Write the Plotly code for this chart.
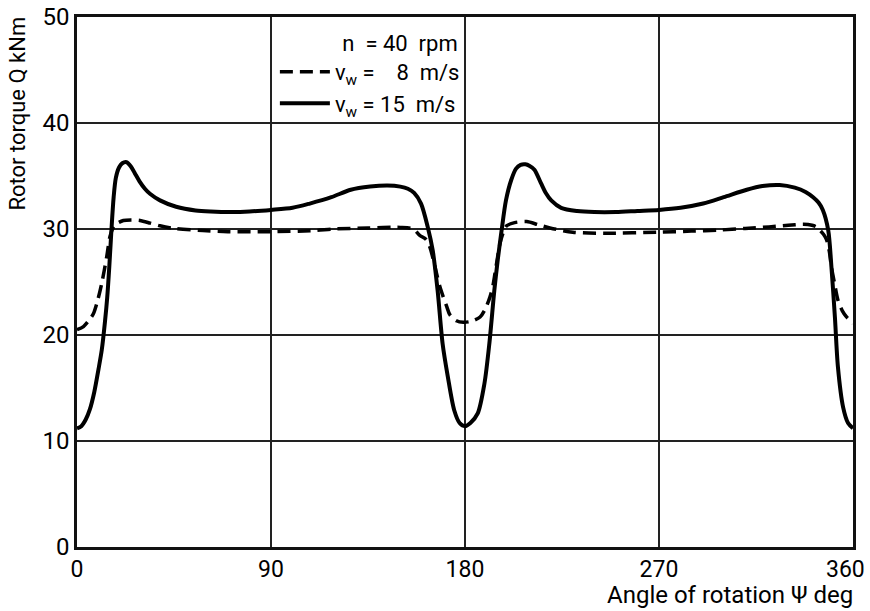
import plotly.graph_objects as go

# Rotor torque over one revolution, n = 40 rpm
angle_15 = [0, 2, 4, 6, 8, 10, 11.5, 13, 14, 15, 16, 17, 18, 19.5, 21, 23, 25, 27, 29,
            31.5, 34, 38.5, 46, 55, 62, 72, 80, 90, 100, 108, 118, 127, 136, 144, 150,
            153.5, 156.4, 159.6, 162.7, 165, 167.3, 169.6, 172, 175, 177.5, 180, 182.5,
            185.9, 189, 191.3, 193.6, 195.2, 197, 199, 201.4, 203.7, 205.8, 208, 210,
            212.2, 215.3, 217.5, 220, 224.6, 232, 240, 250, 260, 270, 280, 290.5, 300,
            310.7, 318, 326, 333, 338, 341.5, 344, 346, 348.5, 350, 351.6, 353, 355.4,
            357.7, 360]
torque_15 = [11.2, 11.4, 12.0, 13.0, 14.6, 16.8, 18.6, 21.3, 23.5, 26.5, 30.0, 33.0, 34.8,
             35.8, 36.2, 36.3, 35.9, 35.2, 34.5, 33.8, 33.3, 32.7, 32.1, 31.75, 31.65,
             31.6, 31.65, 31.8, 32.0, 32.4, 33.0, 33.7, 34.0, 34.1, 34.0, 33.8, 33.4,
             32.4, 30.2, 28.0, 24.2, 19.2, 16.1, 12.9, 11.7, 11.4, 11.7, 12.6, 15.4, 19.2,
             24.2, 27.1, 29.9, 32.7, 34.6, 35.7, 36.05, 36.1, 35.95, 35.6, 34.3, 33.4,
             32.7, 32.0, 31.7, 31.6, 31.6, 31.7, 31.8, 32.0, 32.4, 33.0, 33.7, 34.05,
             34.15, 33.9, 33.5, 33.0, 32.5, 31.8, 29.9, 26.4, 21.7, 17.0, 13.2, 11.7,
             11.2]

angle_8 = [0, 3, 6, 7.6, 9.5, 11.5, 13.8, 15.3, 17, 18.4, 21.5, 25, 29.2, 34, 38.5, 45,
           58.4, 70, 90, 110, 119, 135, 150, 156, 159, 162, 163.7, 165.3, 166.8, 168.3,
           169.9, 171.5, 173, 176, 179.2, 183, 187, 189.5, 191.6, 193, 193.9, 195, 196.2,
           197.8, 199.3, 203, 208.6, 214, 219.4, 230, 245, 270, 285, 298, 310, 321, 330,
           337, 341, 343, 344.6, 346.3, 347.7, 349, 350, 351.5, 353, 355, 357, 360]
torque_8 = [20.5, 20.8, 21.5, 22.0, 23.2, 24.9, 27.4, 29.3, 30.2, 30.5, 30.8, 30.85, 30.8,
            30.55, 30.3, 30.05, 29.85, 29.75, 29.75, 29.85, 30.0, 30.1, 30.15, 30.0, 29.4,
            29.0, 28.3, 27.1, 25.8, 24.6, 23.6, 22.7, 21.9, 21.35, 21.2, 21.3, 21.7, 22.5,
            23.6, 24.7, 25.8, 27.2, 28.6, 29.7, 30.3, 30.6, 30.7, 30.4, 30.1, 29.7, 29.6,
            29.7, 29.8, 29.9, 30.05, 30.2, 30.35, 30.45, 30.35, 30.2, 29.9, 29.5, 29.0,
            27.9, 26.4, 24.8, 23.3, 22.3, 21.7, 21.1]

x_ticks = [0, 90, 180, 270, 360]
y_ticks = [0, 10, 20, 30, 40, 50]

FONT = "Roboto, sans-serif"
NB = "\u00a0"

# the right-most x label is drawn as a right-aligned annotation so it stays on the page
x_ticktext = [str(v) for v in x_ticks]
x_last = x_ticktext[-1]
x_ticktext[-1] = ""

fig = go.Figure()
fig.add_trace(go.Scatter(
    x=angle_8, y=torque_8, mode="lines",
    name=f"v<sub>w</sub>{NB}={NB}{NB}{NB}{NB}8{NB}{NB}m/s",
    line=dict(color="black", width=3.5, dash="13px,7px", shape="spline", smoothing=0.8),
))
fig.add_trace(go.Scatter(
    x=angle_15, y=torque_15, mode="lines",
    name=f"v<sub>w</sub>{NB}={NB}15{NB}{NB}m/s",
    line=dict(color="black", width=4, shape="spline", smoothing=0.8),
))

fig.update_layout(
    width=870, height=611,
    margin=dict(l=77, r=17, t=17, b=64, autoexpand=False),
    paper_bgcolor="white", plot_bgcolor="white",
    font=dict(family=FONT, size=24, color="black"),
    showlegend=True,
    legend=dict(
        x=0.255, y=0.99, xanchor="left", yanchor="top",
        bgcolor="rgba(0,0,0,0)", borderwidth=0,
        font=dict(size=22), tracegroupgap=0, itemwidth=50,
        title=dict(text=f"{NB*12}n{NB}{NB}={NB}40{NB}{NB}rpm", font=dict(size=22)),
    ),
    xaxis=dict(
        range=[0, 360], tickvals=x_ticks, ticktext=x_ticktext,
        showgrid=True, gridcolor="#222", gridwidth=1.5,
        showline=True, linecolor="#111", linewidth=2.5, mirror=True,
        zeroline=False, ticks="", tickfont=dict(size=23),
        automargin=False,
    ),
    yaxis=dict(
        range=[0, 50], tickvals=y_ticks, ticktext=[str(v) for v in y_ticks],
        showgrid=True, gridcolor="#222", gridwidth=1.5,
        showline=True, linecolor="#111", linewidth=2.5, mirror=True,
        zeroline=False, ticks="", tickfont=dict(size=24), automargin=False,
    ),
    annotations=[
        dict(text=x_last, xref="x", yref="paper", x=x_ticks[-1], y=0,
             xanchor="right", yanchor="top", xshift=14, yshift=-7,
             showarrow=False, font=dict(size=23)),
        dict(text="Rotor torque Q kNm", xref="paper", yref="paper",
             x=-0.077, y=1.005, xanchor="center", yanchor="top", textangle=-90,
             showarrow=False, font=dict(size=22)),
        dict(text="Angle of rotation \u03a8 deg", xref="paper", yref="paper",
             x=1.003, y=-0.06, xanchor="right", yanchor="top",
             showarrow=False, font=dict(size=24)),
    ],
)

fig.write_html("out.html")
